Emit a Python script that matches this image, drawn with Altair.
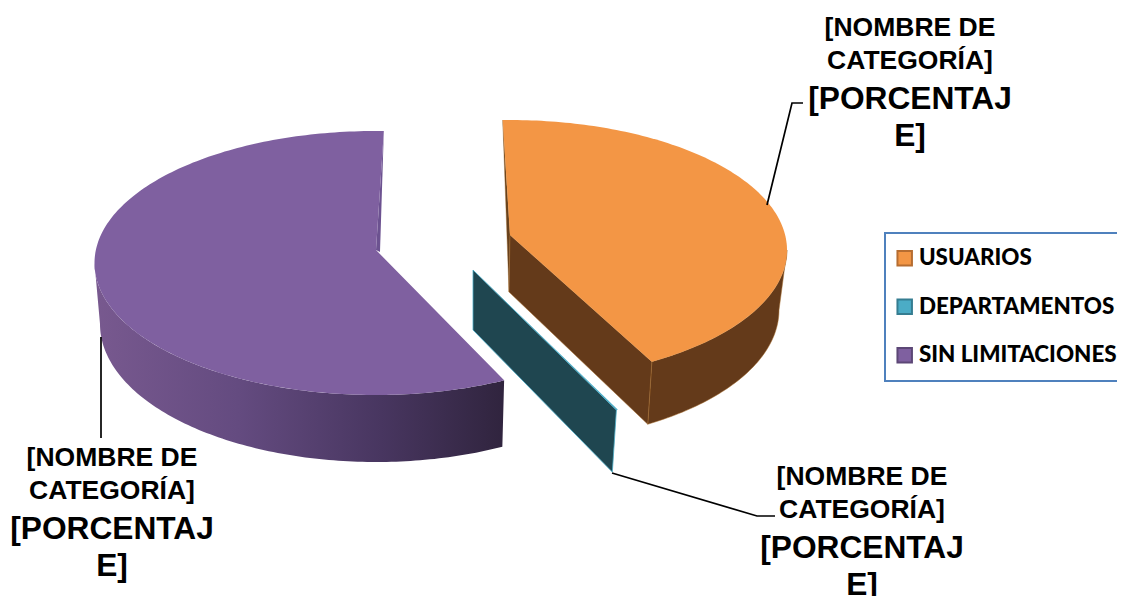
import math
import altair as alt
import pandas as pd

# ---- chart values ----
CATEGORIES = ["USUARIOS", "DEPARTAMENTOS", "SIN LIMITACIONES"]
SHARES = [41.86, 0.1, 58.04]
NAME_LINES = ["[NOMBRE DE", "CATEGORÍA]"]
PCT_LINES = ["[PORCENTAJ", "E]"]
TOP_COLORS = ["#F39645", "#4BACC6", "#7F60A0"]
EDGE_COLORS = ["#B66D31", "#357D91", "#5C4776"]

# ---- drawing geometry (page pixels, see the x/y scale domains) ----
START_ANGLE = -1.5
GEOM = {
    "USUARIOS": dict(cx=510, cy=250, a=277, b=130, ax=510, ay=235,
                     cx2=510, cy2=310, a2=269, b2=133, ax2=509, ay2=292, rot=0),
    "DEPARTAMENTOS": dict(cx=473, cy=298, a=283, b=130, ax=473, ay=270,
                          cx2=473, cy2=360, a2=275, b2=130, ax2=473, ay2=330, rot=0),
    "SIN LIMITACIONES": dict(cx=375.5, cy=263, a=281, b=132, ax=376, ay=250,
                             cx2=376, cy2=324, a2=276, b2=138, ax2=380, ay2=252, rot=3.2),
}


def rim(g, deg, lower=False):
    t = math.radians(deg + g["rot"])
    if lower:
        return g["cx2"] + g["a2"] * math.sin(t), g["cy2"] - g["b2"] * math.cos(t)
    return g["cx"] + g["a"] * math.sin(t), g["cy"] - g["b"] * math.cos(t)


def sweep(start, end):
    n = max(2, int(abs(end - start)) + 1)
    return [start + (end - start) * i / (n - 1) for i in range(n)]


spans = {}
angle = START_ANGLE
for name, share in zip(CATEGORIES, SHARES):
    spans[name] = (angle, angle + share * 3.6)
    angle += share * 3.6


def table(points, cat=""):
    pts = list(points) + [points[0]]
    return pd.DataFrame({"x": [p[0] for p in pts], "y": [p[1] for p in pts],
                         "i": list(range(len(pts))), "cat": cat})


def top_face(name):
    g = GEOM[name]
    s, e = spans[name]
    return table([(g["ax"], g["ay"])] + [rim(g, d) for d in sweep(s, e)], name)


def outer_side(name, a_from, a_to):
    g = GEOM[name]
    return table([rim(g, d) for d in sweep(a_from, a_to)]
                 + [rim(g, d, True) for d in sweep(a_to, a_from)])


def cut_face(name, deg):
    g = GEOM[name]
    return table([(g["ax"], g["ay"]), rim(g, deg), rim(g, deg, True), (g["ax2"], g["ay2"])])


def wall(name, deg):
    g = GEOM[name]
    return table([rim(g, deg), (g["ax"], g["ay"]), (g["ax2"], g["ay2"])])


X = alt.X("x:Q", scale=alt.Scale(domain=[8, 1117]), axis=None)
Y = alt.Y("y:Q", scale=alt.Scale(domain=[596, 8]), axis=None)


def poly(df, fill, stroke=None, sw=0.7):
    mark = alt.Chart(df).mark_line(fill=fill, stroke=stroke or "#00000000", strokeWidth=sw,
                                   interpolate="linear", clip=False)
    return mark.encode(x=X, y=Y, order="i:Q")


U, D, S = CATEGORIES
purple_grad = alt.Gradient(
    gradient="linear", x1=0, x2=1, y1=0, y2=0,
    stops=[alt.GradientStop(offset=0, color="#78598F"),
           alt.GradientStop(offset=0.35, color="#644B80"),
           alt.GradientStop(offset=0.7, color="#483660"),
           alt.GradientStop(offset=1, color="#30243E")])

tops = pd.concat([top_face(n) for n in CATEGORIES], ignore_index=True)
top_layer = alt.Chart(tops).mark_line(strokeWidth=0, interpolate="linear").encode(
    x=X, y=Y, order="i:Q",
    fill=alt.Fill("cat:N",
                  scale=alt.Scale(domain=CATEGORIES, range=TOP_COLORS),
                  sort=CATEGORIES,
                  legend=alt.Legend(
                      title=None, orient="none", legendX=877, legendY=225,
                      symbolType="square", symbolSize=210, symbolStrokeWidth=2,
                      symbolOffset=-5.5,
                      symbolOpacity=1, labelFont="Lato", labelFontWeight=900, labelFontSize=22.4,
                      labelColor="#000000", labelOffset=3, rowPadding=24.5,
                      padding=14, strokeColor="#4F81BD", fillColor="#FFFFFF",
                      labelLimit=400)),
    stroke=alt.Stroke("cat:N",
                      scale=alt.Scale(domain=CATEGORIES, range=EDGE_COLORS),
                      sort=CATEGORIES),
)

s_u, e_u = spans[U]
s_d, e_d = spans[D]
s_s, e_s = spans[S]

leaders = [
    pd.DataFrame({"x": [767, 792, 803], "y": [205, 103, 103], "i": [0, 1, 2]}),
    pd.DataFrame({"x": [612, 757, 775], "y": [473, 516, 516], "i": [0, 1, 2]}),
    pd.DataFrame({"x": [101, 101], "y": [337, 438], "i": [0, 1]}),
]
leader_layers = [
    alt.Chart(df).mark_line(color="#000000", strokeWidth=1.7).encode(x=X, y=Y, order="i:Q")
    for df in leaders
]

LABEL_CENTERS = [(910, 28), (862, 477), (112, 458)]
LINE_STEPS = [0, 33, 71, 108]
name_rows, pct_rows = [], []
for cx, cy in LABEL_CENTERS:
    name_rows += [{"x": cx, "y": cy + LINE_STEPS[k], "t": NAME_LINES[k]} for k in range(2)]
    pct_rows += [{"x": cx, "y": cy + LINE_STEPS[k + 2], "t": PCT_LINES[k]} for k in range(2)]

name_layer = alt.Chart(pd.DataFrame(name_rows)).mark_text(
    font="Liberation Sans", fontWeight="bold", fontSize=26.5, color="#000000",
    align="center", baseline="middle", clip=False).encode(x=X, y=Y, text="t:N")
pct_layer = alt.Chart(pd.DataFrame(pct_rows)).mark_text(
    font="Liberation Sans", fontWeight="bold", fontSize=31.7, color="#000000",
    align="center", baseline="middle", clip=False).encode(x=X, y=Y, text="t:N")

chart = alt.layer(
    # purple slice
    poly(outer_side(S, s_s, 270 - GEOM[S]["rot"]), purple_grad),
    poly(wall(S, e_s), "#6C5290"),
    # departments slice
    poly(cut_face(D, e_d), "#1F4650", "#4BACC6", 0.8),
    # orange slice
    poly(wall(U, s_u), "#66401C", "#A0672C", 0.4),
    poly(outer_side(U, 90, e_u), "#643A1A", "#A86F2E", 0.5),
    poly(cut_face(U, e_u), "#643A1A", "#A86F2E", 0.5),
    # top faces and legend
    top_layer,
    *leader_layers,
    name_layer,
    pct_layer,
).properties(
    width=1109, height=588, padding=0,
    autosize=alt.AutoSizeParams(type="none", contains="padding"),
    background="#FFFFFF",
).configure_view(stroke=None).configure_legend(strokeWidth=2)

chart.save("out.html", embed_options={"renderer": "svg", "actions": False})
